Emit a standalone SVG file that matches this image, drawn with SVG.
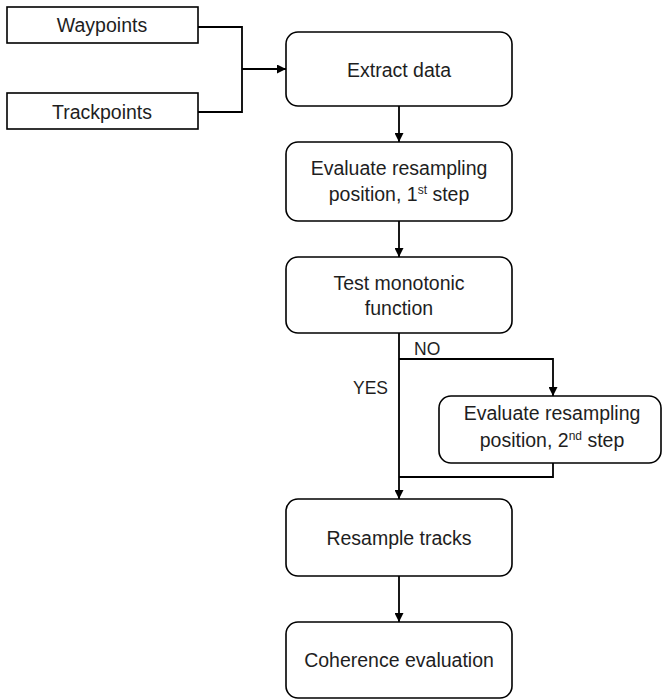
<svg xmlns="http://www.w3.org/2000/svg" width="662" height="699" viewBox="0 0 662 699">
<defs>
<style>
.box{fill:#fff;stroke:#000;stroke-width:1.6}
.t{font-family:"Liberation Sans",Arial,sans-serif;font-size:19.5px;fill:#1e1e1e;text-anchor:middle}
.lbl{font-family:"Liberation Sans",Arial,sans-serif;font-size:17.5px;fill:#1e1e1e}
.sup{font-size:12px}
.c{fill:none;stroke:#000;stroke-width:1.8}
</style>
<marker id="ah" viewBox="0 0 10 10" refX="10" refY="5" markerWidth="9" markerHeight="9" markerUnits="userSpaceOnUse" orient="auto">
<path d="M0,0 L10,5 L0,10 z" fill="#000"/>
</marker>
</defs>
<rect width="662" height="699" fill="#fff"/>
<g id="connectors">
<path class="c" d="M198,27 H242 V112 H198"/>
<path class="c" d="M242,69 H286" marker-end="url(#ah)"/>
<path class="c" d="M399,106 V142" marker-end="url(#ah)"/>
<path class="c" d="M399,221 V257" marker-end="url(#ah)"/>
<path class="c" d="M399,333 V499" marker-end="url(#ah)"/>
<path class="c" d="M399,359 H553 V396" marker-end="url(#ah)"/>
<path class="c" d="M553,463 V477 H399"/>
<path class="c" d="M399,576 V622" marker-end="url(#ah)"/>
</g>
<g id="labels">
<text class="lbl" x="414" y="355">NO</text>
<text class="lbl" x="353" y="394">YES</text>
</g>
<g id="waypoints">
<rect class="box" x="7" y="7" width="191" height="36"/>
<text class="t" x="102" y="32">Waypoints</text>
</g>
<g id="trackpoints">
<rect class="box" x="7" y="93" width="191" height="36"/>
<text class="t" x="102" y="119">Trackpoints</text>
</g>
<g id="extract">
<rect class="box" x="286" y="32" width="226" height="74" rx="12"/>
<text class="t" x="399" y="77">Extract data</text>
</g>
<g id="eval1">
<rect class="box" x="286" y="142" width="226" height="79" rx="12"/>
<text class="t" x="399" y="175">Evaluate resampling</text>
<text class="t" x="399" y="201">position, 1<tspan class="sup" dy="-7">st</tspan><tspan dy="7"> step</tspan></text>
</g>
<g id="test">
<rect class="box" x="286" y="257" width="226" height="76" rx="12"/>
<text class="t" x="399" y="290">Test monotonic</text>
<text class="t" x="399" y="315">function</text>
</g>
<g id="eval2">
<rect class="box" x="439" y="396" width="222" height="67" rx="12"/>
<text class="t" x="552" y="420">Evaluate resampling</text>
<text class="t" x="552" y="447">position, 2<tspan class="sup" dy="-7">nd</tspan><tspan dy="7"> step</tspan></text>
</g>
<g id="resample">
<rect class="box" x="286" y="499" width="226" height="77" rx="12"/>
<text class="t" x="399" y="545">Resample tracks</text>
</g>
<g id="coherence">
<rect class="box" x="286" y="622" width="226" height="76" rx="12"/>
<text class="t" x="399" y="667">Coherence evaluation</text>
</g>
</svg>
